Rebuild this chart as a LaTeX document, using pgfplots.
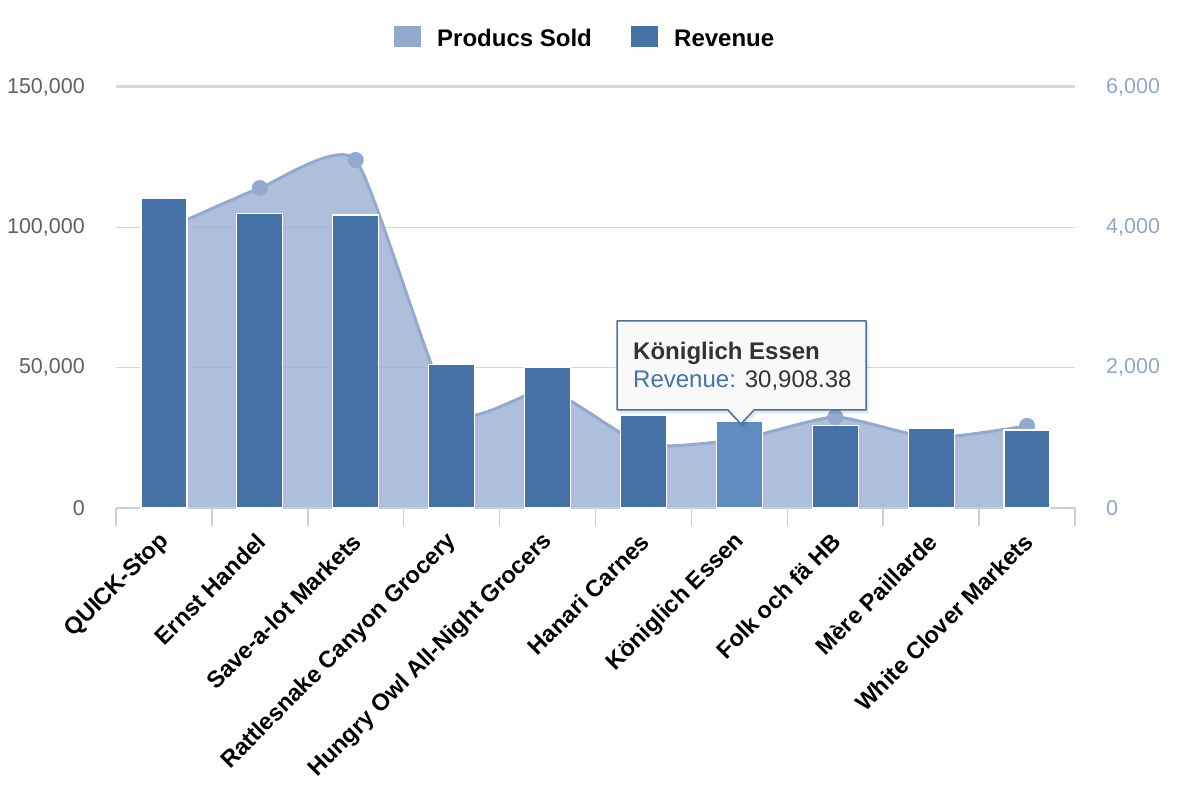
\documentclass[border=0pt]{standalone}
\usepackage{fontspec}
\setmainfont{Liberation Sans}
\usepackage{pgfplots}
\pgfplotsset{compat=1.18}
\definecolor{areaC}{HTML}{93A9CF}
\definecolor{barC}{HTML}{4572A7}
\definecolor{barH}{HTML}{5E8BC0}
\definecolor{gridC}{HTML}{D8D8D8}
\definecolor{axC}{HTML}{C0D0E0}
\definecolor{lblC}{HTML}{606060}
\definecolor{rlblC}{HTML}{8EA6CF}
\definecolor{tipbg}{HTML}{F9F9F9}
\definecolor{txtC}{HTML}{333333}

\pgfplotstableread{
x qty
0 3960
1 4560
2 4960
3 1383
4 1684
5 901
6 980
7 1297
8 1000
9 1170
}\qtytable

\pgfplotstableread{
x rev
0 110277
1 104875
2 104362
3 51098
4 49980
5 32841
7 29500
8 28500
9 27800
}\revtable

\begin{document}
\begin{tikzpicture}[x=1bp,y=1bp]
\useasboundingbox (0,0) rectangle (1200,800);
% ---- axis 1: products sold (right axis), area
\begin{axis}[
  at={(116bp,292bp)}, anchor=south west,
  scale only axis, width=959bp, height=421bp,
  xmin=-0.5, xmax=9.5, ymin=0, ymax=6000,
  axis x line=none,
  axis y line*=right, y axis line style={draw=none},
  ytick={0,2000,4000,6000}, major tick length=0,
  ymajorgrids, grid style={gridC, line width=1bp},
  yticklabel style={font=\fontsize{21.5bp}{24bp}\selectfont, text=rlblC, anchor=west, inner sep=0pt, xshift=31bp},
  scaled y ticks=false,
  /pgf/number format/fixed,
  /pgf/number format/1000 sep={,},
  /pgf/number format/assume math mode=true,
  clip=false,
]
\draw[gridC, line width=3bp] (axis cs:-0.5,6000) -- (axis cs:9.5,6000);
\addplot[fill=areaC, fill opacity=0.75, draw=none, smooth, tension=0.32] table[x=x,y=qty] {\qtytable} \closedcycle;
\addplot[draw=areaC, line width=3bp, smooth, tension=0.32, mark=*, mark size=6.5bp, mark options={fill=areaC, draw=none}] table[x=x,y=qty] {\qtytable};
\end{axis}
% ---- axis 2: revenue (left axis), bars
\begin{axis}[
  at={(116bp,292bp)}, anchor=south west,
  scale only axis, width=959bp, height=421bp,
  xmin=-0.5, xmax=9.5, ymin=0, ymax=150000,
  axis x line*=bottom, axis y line*=left,
  axis line style={-},
  y axis line style={draw=none},
  x axis line style={axC, line width=2bp},
  xtick={0,...,9},
  xticklabels={QUICK-Stop, Ernst Handel, Save-a-lot Markets, Rattlesnake Canyon Grocery, Hungry Owl All-Night Grocers, Hanari Carnes, Königlich Essen, Folk och fä HB, Mère Paillarde, White Clover Markets},
  minor xtick={-0.5,0.5,...,9.5},
  major tick length=0, minor tick length=18bp, tick align=outside,
  minor tick style={axC, line width=1.5bp},
  xticklabel style={font=\bfseries\fontsize{23.5bp}{26bp}\selectfont, text=black, inner sep=0pt, anchor=east, rotate=45, yshift=-22bp, xshift=-20bp},
  ytick={0,50000,100000,150000},
  yticklabel style={font=\fontsize{21.5bp}{24bp}\selectfont, text=lblC, anchor=east, inner sep=0pt, xshift=-31bp},
  scaled y ticks=false,
  /pgf/number format/fixed,
  /pgf/number format/1000 sep={,},
  /pgf/number format/assume math mode=true,
  bar width=46bp,
  clip=false,
]
\addplot[ybar, bar shift=0pt, fill=barC, draw=white, line width=1.2bp] table[x=x,y=rev] {\revtable};
\addplot[ybar, bar shift=0pt, fill=barH, draw=white, line width=1.2bp] coordinates {(6,30908.38)};
\end{axis}
% ---- legend
\fill[areaC] (394,753) rectangle (421,774);
\node[anchor=base west, inner sep=0pt, font=\bfseries\fontsize{24bp}{28bp}\selectfont] at (437,753) {Producs Sold};
\fill[barC] (631,753) rectangle (658,774);
\node[anchor=base west, inner sep=0pt, font=\bfseries\fontsize{24bp}{28bp}\selectfont] at (674,753) {Revenue};
% ---- tooltip
\fill[black, opacity=0.06] (619,386) -- (729,386) -- (743,372) -- (757,386) -- (869,386) -- (869,476) -- (619,476) -- cycle;
\fill[black, opacity=0.05] (618,387.5) -- (728,387.5) -- (742,373.5) -- (756,387.5) -- (868,387.5) -- (868,477.5) -- (618,477.5) -- cycle;
\draw[barC, line width=1.5bp, fill=tipbg, line join=round] (617,390) -- (728,390) -- (741,376) -- (754,390) -- (866,390) -- (866,479) -- (617,479) -- cycle;
\node[anchor=base west, inner sep=0pt, text=txtC, font=\bfseries\fontsize{24bp}{28bp}\selectfont] at (633,440) {Königlich Essen};
\node[anchor=base west, inner sep=0pt, font=\fontsize{24bp}{28bp}\selectfont] at (633,412) {\textcolor{barC}{Revenue:} \textcolor{txtC}{30,908.38}};
\end{tikzpicture}
\end{document}
